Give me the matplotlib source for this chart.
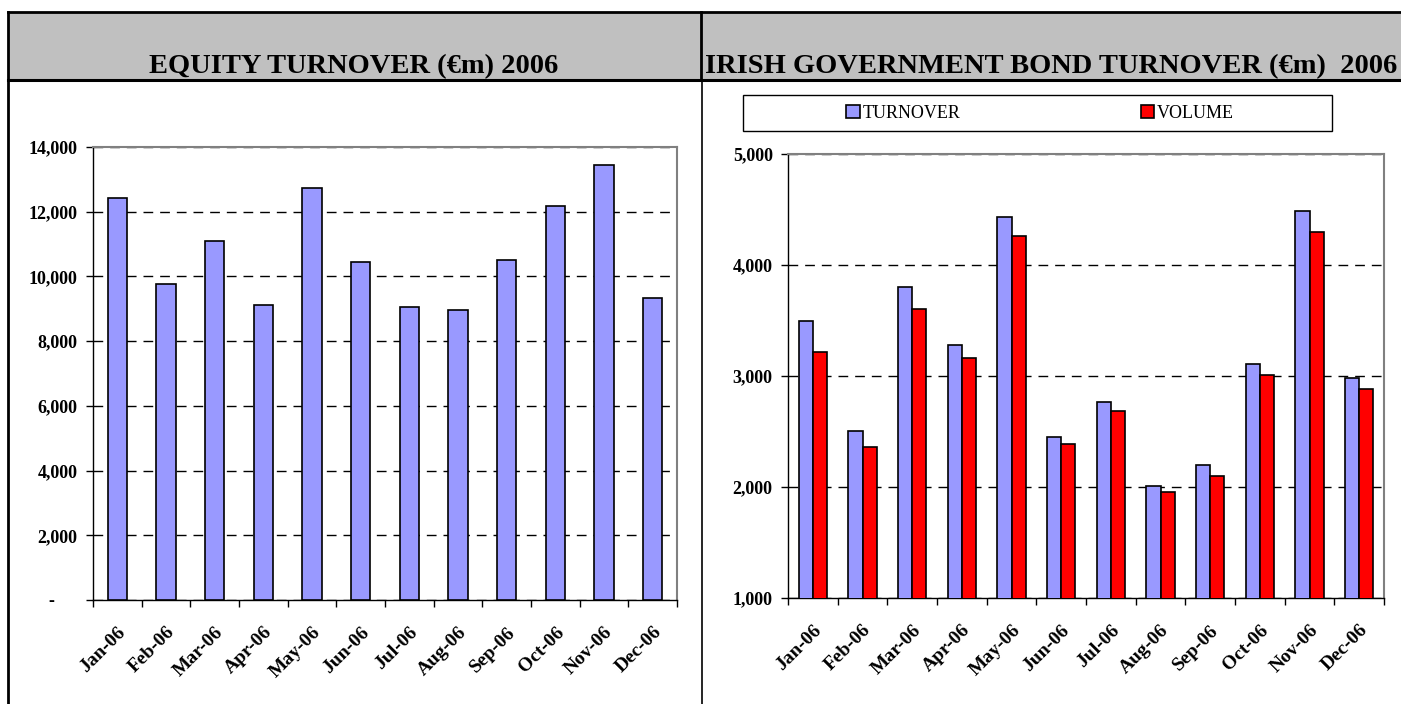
import matplotlib
matplotlib.use("Agg")
import matplotlib.pyplot as plt
from matplotlib.patches import Rectangle, Patch
from matplotlib.ticker import FuncFormatter, FixedLocator
import numpy as np

plt.rcParams['font.family'] = ['Liberation Serif', 'DejaVu Serif']

months = ["Jan-06", "Feb-06", "Mar-06", "Apr-06", "May-06", "Jun-06",
          "Jul-06", "Aug-06", "Sep-06", "Oct-06", "Nov-06", "Dec-06"]

# equity turnover (EUR m)
equity = [12420, 9780, 11080, 9120, 12740, 10450, 9060, 8950, 10500, 12170, 13430, 9320]

# Irish government bond turnover / volume (EUR m)
bond_turnover = [3495, 2504, 3805, 3276, 4435, 2453, 2763, 2012, 2195, 3105, 4483, 2979]
bond_volume = [3219, 2363, 3607, 3165, 4258, 2387, 2688, 1958, 2099, 3012, 4300, 2883]

W, H = 1401, 704
BLUE = "#9999FF"
RED = "#FF0000"
FS = 13

fig = plt.figure(figsize=(W / 100, H / 100), dpi=100)

# ---- table frame / header ----
bg = fig.add_axes([0, 0, 1, 1], zorder=-1)
bg.set_xlim(0, W)
bg.set_ylim(H, 0)
bg.axis("off")
bg.add_patch(Rectangle((8, 12), W - 8, 68, facecolor="#C0C0C0", edgecolor="none"))
bg.plot([8, W], [12, 12], color="black", lw=2)
bg.plot([8, W], [80, 80], color="black", lw=2.2)
bg.plot([8, 8], [12, H], color="black", lw=2)
bg.plot([701, 701], [12, 80], color="black", lw=2)
bg.plot([702, 702], [80, H], color="black", lw=1.2)
bg.text(354, 73, "EQUITY TURNOVER (€m) 2006", ha="center", va="baseline",
        fontsize=20.5, fontweight="bold")
bg.text(1051, 73, "IRISH GOVERNMENT BOND TURNOVER (€m)  2006", ha="center",
        va="baseline", fontsize=20.5, fontweight="bold")


def px_axes(x0, x1, ytop, ybot):
    return fig.add_axes([x0 / W, (H - ybot) / H, (x1 - x0) / W, (ybot - ytop) / H])


def style(ax, n):
    ax.set_xlim(0, n)
    ax.xaxis.set_major_locator(FixedLocator(np.arange(n) + 0.5))
    ax.xaxis.set_minor_locator(FixedLocator(np.arange(n + 1)))
    ax.set_xticklabels(months, rotation=45, ha="right", va="top",
                       rotation_mode="anchor", fontsize=14, fontweight="bold")
    ax.tick_params(axis="x", which="major", length=0, pad=17)
    ax.tick_params(axis="x", which="minor", length=5, direction="out", width=1)
    ax.tick_params(axis="y", length=5, direction="out", width=1, pad=6)
    for lab in ax.get_yticklabels():
        lab.set_fontweight("bold")
    ax.yaxis.grid(True, linestyle=(0, (7, 5)), color="black", lw=1)
    ax.set_axisbelow(True)
    for s in ["left", "bottom"]:
        ax.spines[s].set_color("black")
        ax.spines[s].set_linewidth(1)
    for s in ["top", "right"]:
        ax.spines[s].set_color("#808080")
        ax.spines[s].set_linewidth(1.5)


# ---- left chart: equity ----
ax1 = px_axes(93, 677, 147, 600)
x = np.arange(len(months)) + 0.5
ax1.bar(x, equity, width=0.4, color=BLUE, edgecolor="black", linewidth=1.2, zorder=3)
ax1.set_ylim(0, 14000)
ax1.set_yticks(np.arange(0, 14001, 2000))
ax1.yaxis.set_major_formatter(FuncFormatter(lambda v, p: "-     " if v == 0 else f"{int(v):,}"))
ax1.tick_params(axis="y", labelsize=FS)
style(ax1, len(months))

# ---- right chart: bonds ----
ax2 = px_axes(788, 1384, 154, 598)
bw = 0.285
ax2.bar(x - bw / 2, bond_turnover, width=bw, color=BLUE,
        edgecolor="black", linewidth=1.2, zorder=3)
ax2.bar(x + bw / 2, bond_volume, width=bw, color=RED,
        edgecolor="black", linewidth=1.2, zorder=3)
ax2.set_ylim(1000, 5000)
ax2.set_yticks(np.arange(1000, 5001, 1000))
ax2.yaxis.set_major_formatter(FuncFormatter(lambda v, p: f"{int(v):,}"))
ax2.tick_params(axis="y", labelsize=FS)
style(ax2, len(months))

# legend box
bg.add_patch(Rectangle((743, 95), 589, 36, facecolor="white", edgecolor="black", lw=1))
handles = [Patch(facecolor=BLUE, edgecolor="black", lw=1.2, label="TURNOVER"),
           Patch(facecolor=RED, edgecolor="black", lw=1.2, label="VOLUME")]
fig.legend(handles=handles, loc="center", bbox_to_anchor=(1040 / W, (H - 113) / H),
           ncol=2, frameon=False, fontsize=FS, handlelength=0.75, handleheight=0.75,
           handletextpad=0.15, columnspacing=10.0)

fig.savefig("out.png", dpi=100)
